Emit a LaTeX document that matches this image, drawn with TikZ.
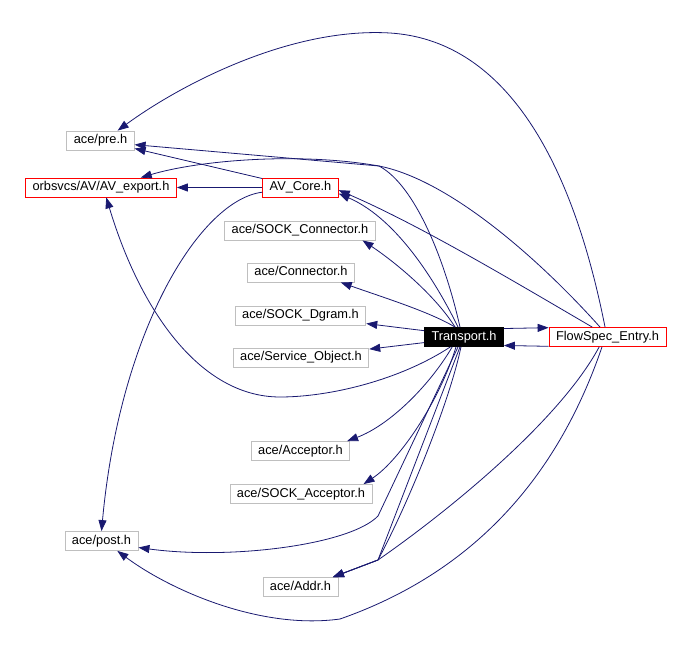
\documentclass[tikz,border=0pt]{standalone}
\usepackage{fontspec}
\setmainfont{Liberation Sans}
\usetikzlibrary{arrows.meta}
\definecolor{edgeblue}{HTML}{191970}
\definecolor{boxgray}{HTML}{BFBFBF}

\begin{document}
\begin{tikzpicture}[x=1pt, y=-1pt,
  file/.style={draw=boxgray, line width=0.8pt, minimum height=19pt, inner xsep=7pt, inner ysep=2pt,
    text height=9.2pt, text depth=2.7pt, font=\fontsize{12.8}{15}\selectfont},
  redfile/.style={file, draw=red},
  curfile/.style={file, draw=black, fill=black, text=white},
  dep/.style={-{Triangle[length=11pt,width=8pt]}, draw=edgeblue, line width=0.8pt}]

  \useasboundingbox (0,0) rectangle (689,650);

  % Left column
  \node[file] (pre) at (100.5,140.5) {ace/pre.h};
  \node[redfile] (export) at (101,187.5) {orbsvcs/AV/AV\_export.h};
  \node[file] (post) at (101.5,541) {ace/post.h};

  % Middle column
  \node[redfile] (core) at (300.5,187.5) {AV\_Core.h};
  \node[file] (sockconn) at (300,230.5) {ace/SOCK\_Connector.h};
  \node[file] (conn) at (301,272.5) {ace/Connector.h};
  \node[file] (dgram) at (300.5,315.5) {ace/SOCK\_Dgram.h};
  \node[file] (svcobj) at (301,357.5) {ace/Service\_Object.h};
  \node[file] (acceptor) at (300.5,451) {ace/Acceptor.h};
  \node[file] (sockacc) at (301,494) {ace/SOCK\_Acceptor.h};
  \node[file] (addr) at (300.5,587) {ace/Addr.h};

  % Right side
  \node[curfile] (transport) at (464,337) {Transport.h};
  \node[redfile] (flowspec) at (607.5,337) {FlowSpec\_Entry.h};

  % AV_Core.h includes
  \draw[dep] (core) -- (export);
  \draw[dep] (core) -- (pre);
  \draw[dep] (core.-173) .. controls (200,200) and (120,330) .. (post.north);

  % Transport.h includes
  \draw[dep] (transport.12) -- (flowspec.171);
  \draw[dep] (transport.171) -- (dgram.-7);
  \draw[dep] (transport.-172) -- (svcobj.7);
  \draw[dep] (transport.132) .. controls (430,312) and (385,298) .. (conn.-14);
  \draw[dep] (transport.132) .. controls (435,295) and (395,262) .. (sockconn.-9);
  \draw[dep] (transport.121) .. controls (440,290) and (400,220) .. (core.-9);
  \draw[dep] (transport.112) .. controls (445,260) and (415,185) .. (379,166) -- (pre.-7);
  \draw[dep] (transport.-144) .. controls (400,380) and (330,397) .. (280,397)
    .. controls (200,397) and (140,310) .. (export.-62);
  \draw[dep] (transport.-140) .. controls (430,385) and (390,425) .. (acceptor.12);
  \draw[dep] (transport.-129) .. controls (440,400) and (400,460) .. (sockacc.9);
  \draw[dep] (transport.-121) -- (378,516) .. controls (350,545) and (230,560) .. (post.-10);
  \draw[dep] (transport.-112) -- (378,560) -- (addr.17);
  \draw[dep] (transport.-107) .. controls (450,400) and (410,500) .. (378,560) -- (addr.17);

  % FlowSpec_Entry.h includes
  \draw[dep] (flowspec.-171) -- (transport.-12);
  \draw[dep] (flowspec.147) .. controls (520,285) and (420,225) .. (core.-4);
  \draw[dep] (flowspec.127) .. controls (540,260) and (450,180) .. (379,166)
    .. controls (300,152) and (200,160) .. (export.14);
  \draw[dep] (flowspec.104) .. controls (570,150) and (500,40) .. (390,33)
    .. controls (290,27) and (180,85) .. (pre.30);
  \draw[dep] (flowspec.-130) .. controls (560,420) and (450,510) .. (378,560) -- (addr.17);
  \draw[dep] (flowspec.-119) .. controls (560,470) and (480,570) .. (340,619)
    .. controls (260,630) and (170,590) .. (post.-32);

\end{tikzpicture}
\end{document}
